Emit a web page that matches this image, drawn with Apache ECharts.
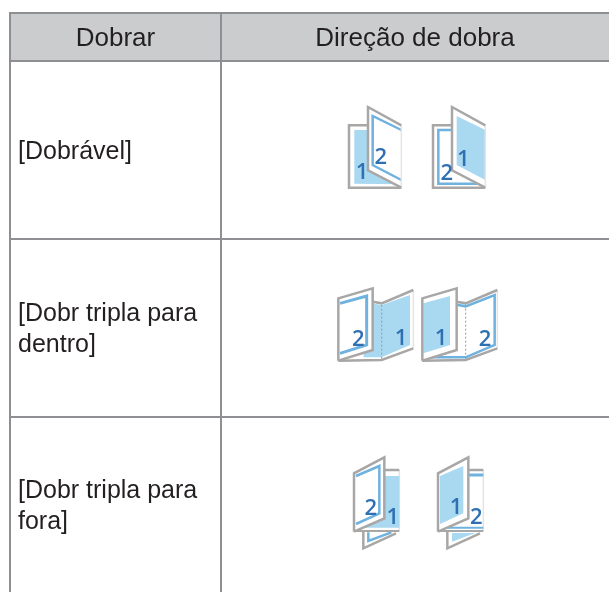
<!DOCTYPE html>
<html>
<head>
<meta charset="utf-8">
<style>html,body{margin:0;padding:0;background:#fff}#main{width:609px;height:592px}</style>
<script src="https://cdn.jsdelivr.net/npm/echarts@6/dist/echarts.min.js"></script>
</head>
<body>
<div id="main"></div>
<script>
// table content
const headers = ['Dobrar', 'Direção de dobra'];
const rowLabels = ['[Dobrável]', '[Dobr tripla para\ndentro]', '[Dobr tripla para\nfora]'];
const iconKinds = ['double', 'inner', 'outer'];
const iconDigits = [[['1', '2'], ['2', '1']], [['2', '1'], ['1', '2']], [['2', '1'], ['1', '2']]];

// layout, in page pixels
const colEdges = [10, 221, 609];
const rowEdges = [13, 61, 239, 417, 592];

const LINE = '#8e8f92', HEAD = '#cbcccd', INK = '#231f20';
const BLUE = '#a9d8f1', FRAME = '#6fb2df', EDGE = '#a9a7a6', FAINT = '#e4e4e4', DIGIT = '#2f70b2';

// icon helpers, outlines are noted in thirds of a pixel from the icon corner
function pen(api, ox, oy) {
    const at = p => api.coord([ox + p[0] / 3, oy + p[1] / 3]);
    return {
        fill: (pts, color) => ({ type: 'polygon', shape: { points: pts.map(at) }, style: { fill: color } }),
        line: (pts, color, w, dash) => ({
            type: 'polyline', shape: { points: pts.map(at) },
            style: { fill: null, stroke: color, lineWidth: w, lineDash: dash || null }
        }),
        digit: (p, txt) => ({
            type: 'text',
            style: {
                text: txt, x: at(p)[0], y: at(p)[1], align: 'center', verticalAlign: 'middle',
                font: '600 22px "Open Sans"', fill: DIGIT
            }
        })
    };
}

function iconDouble(api, ox, oy, d, flapBlue) {
    const p = pen(api, ox, oy);
    const backIn = [[16, 69], [100, 69], [157, 232], [16, 230]];
    const flapIn = [[71, 27], [157, 69], [157, 219], [71, 174]];
    const out = [
        p.line([[64, 55], [0, 55], [0, 242], [157, 242]], EDGE, 2.5),
        flapBlue ? p.line([[64, 69], [16, 69], [16, 230], [157, 230]], FRAME, 2.5) : p.fill(backIn, BLUE),
        p.fill([[57, 0], [157, 55], [157, 242], [57, 190]], '#fff')
    ];
    if (flapBlue) out.push(p.fill(flapIn, BLUE));
    else out.push(p.line([[157, 69], [71, 27], [71, 174], [157, 219]], FRAME, 2.5));
    out.push(
        p.line([[157, 55], [157, 242]], FAINT, 1.5),
        p.line([[157, 55], [57, 0], [57, 190], [157, 242]], EDGE, 2.5),
        p.digit(flapBlue ? [41, 199] : [39, 197], d[0]),
        p.digit(flapBlue ? [91, 159] : [95, 151], d[1])
    );
    return out;
}

function iconInner(api, ox, oy, d, frontBlue) {
    const p = pen(api, ox, oy);
    const out = [
        p.line([[226, 6], [226, 181]], FAINT, 1.5),
        p.line([[104, 41], [131, 46], [226, 6]], EDGE, 2.5),
        p.line([[226, 181], [131, 216], [1, 218]], EDGE, 2.5)
    ];
    if (frontBlue) {
        out.push(p.line([[104, 50], [131, 55], [218, 21], [218, 171], [131, 208], [20, 208]], FRAME, 2.5));
    } else {
        out.push(p.fill([[100, 46], [131, 51], [216, 21], [216, 171], [131, 208], [76, 208]], BLUE));
    }
    out.push(
        p.line([[131, 50], [131, 215]], '#9a9a9a', 1, [2, 2]),
        p.fill([[1, 31], [104, 1], [104, 186], [1, 218]], '#fff')
    );
    if (frontBlue) {
        out.push(p.fill([[4, 46], [84, 24], [84, 171], [4, 196]], BLUE));
    } else {
        out.push(p.line([[6, 46], [86, 24], [86, 171], [6, 196]], FRAME, 3));
    }
    out.push(
        p.line([[1, 218], [1, 31], [104, 1], [104, 186], [1, 218]], EDGE, 2.5),
        p.digit(frontBlue ? [57, 153] : [61, 156], d[0]),
        p.digit(frontBlue ? [189, 156] : [189, 153], d[1])
    );
    return out;
}

function iconOuter(api, ox, oy, d, frontBlue) {
    const p = pen(api, ox, oy);
    const out = [];
    // lower flap
    out.push(frontBlue
        ? p.fill([[42, 228], [42, 254], [112, 228]], BLUE)
        : p.line([[43, 226], [43, 252], [112, 226]], FRAME, 2.5));
    out.push(p.line([[28, 224], [28, 274], [126, 229]], EDGE, 2.5));
    // sheet behind
    out.push(p.line([[136, 39], [136, 222]], FAINT, 1.5));
    out.push(p.line([[91, 39], [136, 39]], EDGE, 2.5));
    if (frontBlue) {
        out.push(p.line([[91, 54], [136, 54]], FRAME, 3));
        out.push(p.line([[10, 212], [136, 212]], FRAME, 2));
    } else {
        out.push(p.fill([[91, 57], [136, 57], [136, 212], [10, 212]], BLUE));
    }
    out.push(p.line([[0, 222], [136, 222]], EDGE, 2));
    // front flap
    out.push(p.fill([[0, 49], [91, 1], [91, 184], [0, 224]], '#fff'));
    if (frontBlue) {
        out.push(p.fill([[6, 57], [76, 27], [76, 169], [6, 201]], BLUE));
    } else {
        out.push(p.line([[6, 57], [76, 27], [76, 169], [6, 201]], FRAME, 2.5));
    }
    out.push(
        p.line([[0, 224], [0, 49], [91, 1], [91, 184], [0, 224]], EDGE, 2.5),
        p.digit(frontBlue ? [54, 151] : [50, 154], d[0]),
        p.digit(frontBlue ? [115, 182] : [116, 182], d[1])
    );
    return out;
}

// where each icon pair sits, by kind
const iconSpots = {
    double: [[349, 107], [433, 107]],
    inner: [[338, 288], [422, 288]],
    outer: [[354, 457], [438, 457]]
};
const iconDraw = { double: iconDouble, inner: iconInner, outer: iconOuter };

function renderTable(params, api) {
    const children = [];
    const x0 = colEdges[0], x1 = colEdges[1], x2 = colEdges[2];
    const a = api.coord([x0, rowEdges[0]]), b = api.coord([x2, rowEdges[1]]);
    children.push({ type: 'rect', shape: { x: a[0], y: a[1], width: b[0] - a[0], height: b[1] - a[1] }, style: { fill: HEAD } });

    const seg = (p, q) => ({
        type: 'line',
        shape: { x1: api.coord(p)[0], y1: api.coord(p)[1], x2: api.coord(q)[0], y2: api.coord(q)[1] },
        style: { stroke: LINE, lineWidth: 2 }
    });
    rowEdges.slice(0, -1).forEach(y => children.push(seg([x0 - 1, y], [x2, y])));
    [x0, x1].forEach(x => children.push(seg([x, rowEdges[0]], [x, rowEdges[4]])));

    headers.forEach((h, i) => {
        const c = api.coord([(colEdges[i] + colEdges[i + 1]) / 2, (rowEdges[0] + rowEdges[1]) / 2 + 2]);
        children.push({ type: 'text', style: { text: h, x: c[0], y: c[1], align: 'center', verticalAlign: 'middle', font: '26px "Liberation Sans"', fill: INK } });
    });

    rowLabels.forEach((t, i) => {
        const c = api.coord([18, (rowEdges[i + 1] + rowEdges[i + 2]) / 2 + 2]);
        children.push({ type: 'text', style: { text: t, x: c[0], y: c[1], align: 'left', verticalAlign: 'middle', font: '25px "Liberation Sans"', lineHeight: 31, fill: INK } });
    });

    iconKinds.forEach((kind, i) => {
        iconSpots[kind].forEach((spot, k) => {
            children.push(...iconDraw[kind](api, spot[0], spot[1], iconDigits[i][k], k === 1));
        });
    });
    return { type: 'group', children: children };
}

const chart = echarts.init(document.getElementById('main'), null, { renderer: 'canvas' });
chart.setOption({
    animation: false,
    backgroundColor: '#fff',
    grid: { left: 0, right: 0, top: 0, bottom: 0 },
    xAxis: { type: 'value', min: 0, max: 609, show: false },
    yAxis: { type: 'value', min: 0, max: 592, inverse: true, show: false },
    series: [{
        type: 'custom',
        silent: true,
        clip: false,
        data: [[0, 0]],
        renderItem: renderTable
    }]
});
</script>
</body>
</html>
